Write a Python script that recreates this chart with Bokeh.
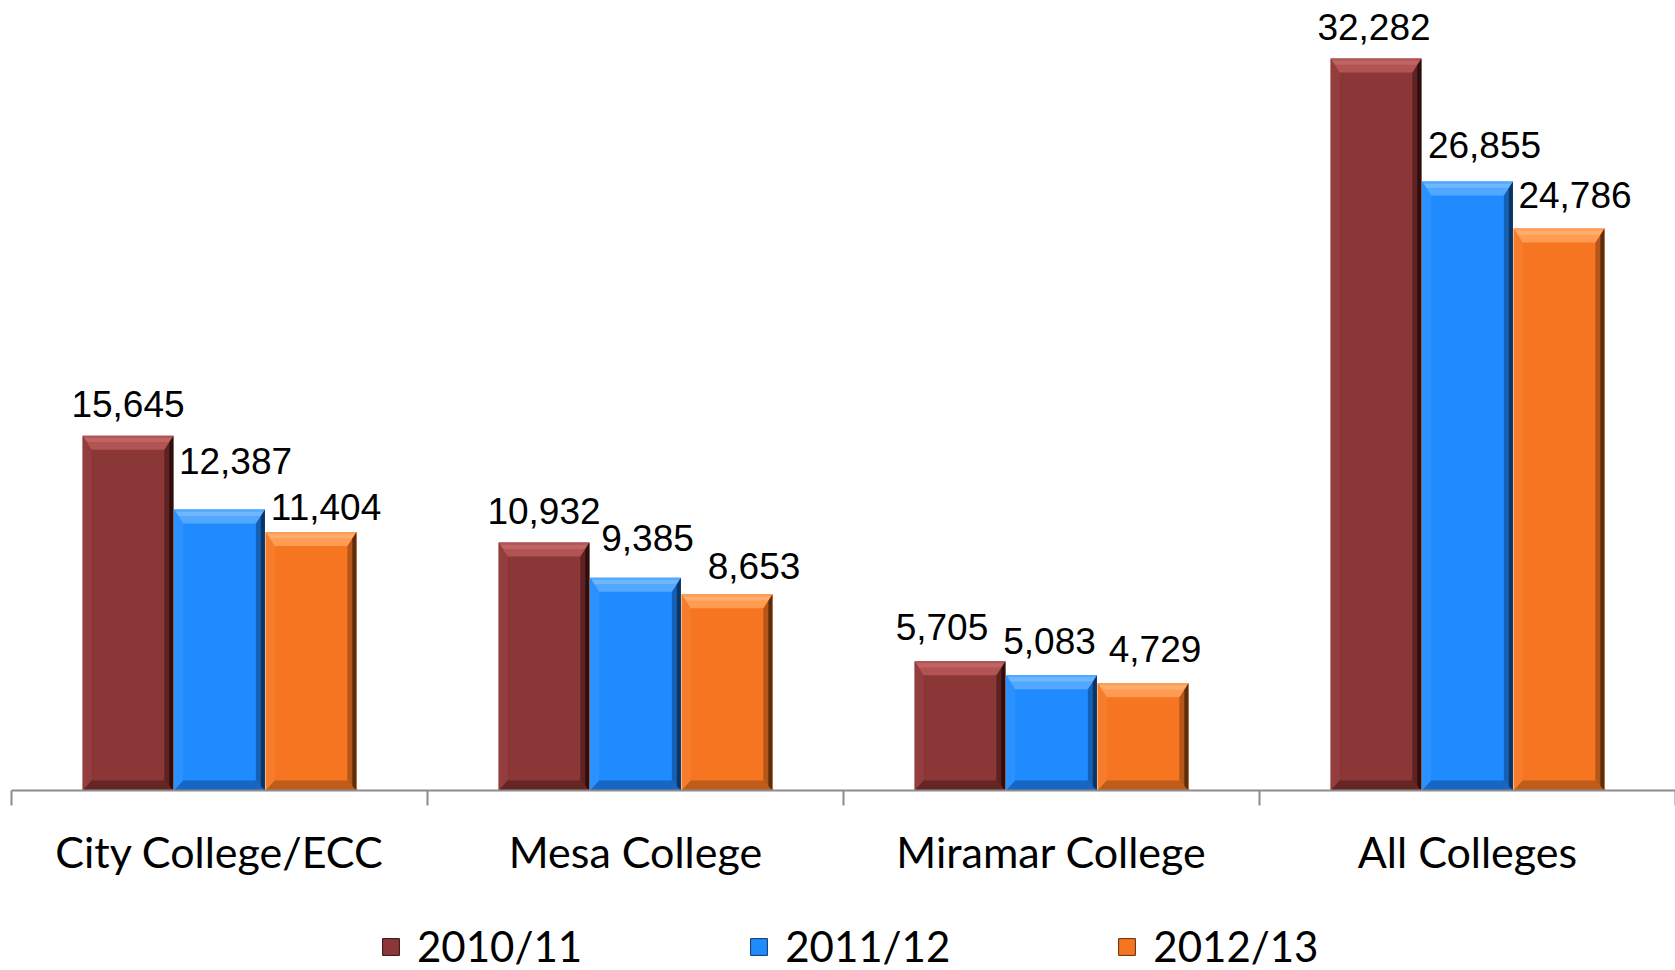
from bokeh.plotting import figure
from bokeh.layouts import column
from bokeh.models import Range1d, FixedTicker, Legend, LegendItem, ColumnDataSource
from bokeh.core.properties import value
from bokeh.embed import file_html
from bokeh.resources import INLINE

# ---- data ----
categories = ["City College/ECC", "Mesa College", "Miramar College", "All Colleges"]
series = ["2010/11", "2011/12", "2012/13"]
v_2010_11 = [15645, 10932, 5705, 32282]
v_2011_12 = [12387, 9385, 5083, 26855]
v_2012_13 = [11404, 8653, 4729, 24786]
all_values = [v_2010_11, v_2011_12, v_2012_13]

# ---- style ----
face = ["#8B3737", "#1F8BFF", "#F57521"]
top_c = ["#B25454", "#52A8FF", "#FF9C52"]
hi_c = ["#C46A6A", "#7ABDFF", "#FFB57A"]
right_c = ["#5E2222", "#1460B5", "#B5561A"]
right_dk = ["#2E0E0E", "#0B3563", "#5E2C0A"]
bottom_c = ["#662626", "#1767C2", "#C05C1A"]
left_c = ["#933D3D", "#2A91FF", "#F67D2C"]
# per-label nudges in screen px (label placement, as in the original)
nudge_x = [[0, 0, -18, -2], [16, 12, -2, 17], [15, 27, 12, 16]]
nudge_y = [[20, 20, 22, 20], [37, 28, 22, 25], [13, 16, 22, 21]]
BASE_FIX = 12

W = 1675
H_MAIN = 910
H_LEG = 60
FRAME_H = 790
LEFT = 11
FRAME_W = W - LEFT
NCAT = len(categories)
ypx = 732 / 32282.0            # px per data unit
Y_END = FRAME_H / ypx
xpx = FRAME_W / NCAT           # px per category

p = figure(width=W, height=H_MAIN, x_range=Range1d(0, NCAT), y_range=Range1d(0, Y_END),
           output_backend="svg", toolbar_location=None,
           min_border_left=LEFT, min_border_right=0, min_border_top=0,
           min_border_bottom=H_MAIN - FRAME_H)
p.outline_line_color = None
p.xgrid.visible = False
p.ygrid.visible = False
p.yaxis.visible = False
p.background_fill_color = "white"
p.border_fill_color = "white"

# legend strip (separate figure below the chart)
pl = figure(width=W, height=H_LEG, x_range=Range1d(0, 1), y_range=Range1d(0, 1),
            output_backend="svg", toolbar_location=None,
            min_border_left=0, min_border_right=0, min_border_top=0, min_border_bottom=0)
pl.outline_line_color = None
pl.xaxis.visible = False
pl.yaxis.visible = False
pl.xgrid.visible = False
pl.ygrid.visible = False

offsets = [-0.22, 0.0, 0.22]
bw = 0.218
bx = 9 / xpx
bt = 14 / ypx
bb = 10 / ypx
bxo = 4 / xpx

legend_items = []
for s in range(len(series)):
    vals = all_values[s]
    xs_c = [i + 0.5 + offsets[s] for i in range(NCAT)]
    src = ColumnDataSource(dict(x=xs_c, top=vals))
    p.vbar(x="x", top="top", width=bw, source=src, fill_color=face[s], line_color=None)
    # off-screen stand-in so the legend strip can show the series swatch
    lr = pl.vbar(x=[5], top=[1], width=0.1, fill_color=face[s], line_color=right_dk[s], line_width=1)
    legend_items.append(LegendItem(label=series[s], renderers=[lr]))

    top_xs, top_ys, rt_xs, rt_ys, bo_xs, bo_ys, le_xs, le_ys = [], [], [], [], [], [], [], []
    rd_xs, rd_ys, hi_xs, hi_ys = [], [], [], []
    for xc, v in zip(xs_c, vals):
        x0, x1 = xc - bw / 2, xc + bw / 2
        top_xs.append([x0, x1, x1 - bx, x0 + bx]); top_ys.append([v, v, v - bt, v - bt])
        hi_xs.append([x0 + bx * 0.2, x1 - bx * 0.2, x1 - bx * 0.5, x0 + bx * 0.5])
        hi_ys.append([v - bt * 0.15, v - bt * 0.15, v - bt * 0.45, v - bt * 0.45])
        rt_xs.append([x1, x1, x1 - bx, x1 - bx]); rt_ys.append([v, 0, bb, v - bt])
        rd_xs.append([x1, x1, x1 - bxo, x1 - bxo]); rd_ys.append([v, 0, bb * 0.45, v - bt * 0.45])
        bo_xs.append([x0, x1, x1 - bx, x0 + bx]); bo_ys.append([0, 0, bb, bb])
        le_xs.append([x0, x0 + bx, x0 + bx, x0]); le_ys.append([v, v - bt, bb, 0])
    p.patches(le_xs, le_ys, fill_color=left_c[s], line_color=None)
    p.patches(bo_xs, bo_ys, fill_color=bottom_c[s], line_color=None)
    p.patches(rt_xs, rt_ys, fill_color=right_c[s], line_color=None)
    p.patches(rd_xs, rd_ys, fill_color=right_dk[s], line_color=None)
    p.patches(top_xs, top_ys, fill_color=top_c[s], line_color=None)
    p.patches(hi_xs, hi_ys, fill_color=hi_c[s], line_color=None, fill_alpha=0.7)

    lsrc = ColumnDataSource(dict(
        x=xs_c, y=vals, t=[f"{v:,}" for v in vals],
        dx=nudge_x[s], dy=[-(d + BASE_FIX) for d in nudge_y[s]]))
    p.text(x="x", y="y", text="t", x_offset="dx", y_offset="dy", source=lsrc,
           text_align="center", text_baseline="alphabetic",
           text_font=value("Liberation Sans"), text_font_size="37px", text_color="#000000")

# ---- x axis ----
ax = p.xaxis[0]
ax.ticker = FixedTicker(ticks=[i + 0.5 for i in range(NCAT)], minor_ticks=list(range(NCAT + 1)))
ax.major_label_overrides = {i + 0.5: c for i, c in enumerate(categories)}
ax.major_tick_in = 0
ax.major_tick_out = 0
ax.minor_tick_in = 0
ax.minor_tick_out = 15
ax.minor_tick_line_color = "#8C8C8C"
ax.minor_tick_line_width = 2
ax.axis_line_color = "#8C8C8C"
ax.axis_line_width = 2
ax.major_label_text_font = "Lato"
ax.major_label_text_font_size = "43px"
ax.major_label_text_color = "#000000"
ax.major_label_standoff = 20

# ---- legend ----
legend = Legend(items=legend_items, orientation="horizontal", location=(369, -1),
                glyph_width=21, glyph_height=21, label_standoff=16, spacing=166,
                padding=0, margin=0, border_line_color=None, background_fill_alpha=0,
                label_text_font="Lato", label_text_font_size="42px", label_text_color="#000000")
pl.add_layout(legend, "center")

layout = column(p, pl, spacing=0)
open("out.html", "w").write(file_html(layout, INLINE))
